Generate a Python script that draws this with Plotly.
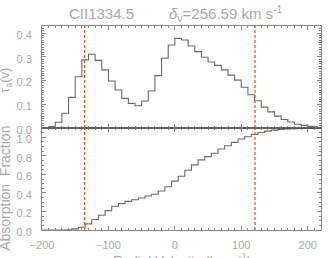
import plotly.graph_objects as go
from plotly.subplots import make_subplots

# ---- data ----
vel_tau = [-195, -185, -175, -165, -155, -145, -135, -125, -115, -105,
           -95, -85, -75, -65, -55, -45, -35, -25, -15, -5,
           5, 15, 25, 35, 45, 55, 65, 75, 85, 95,
           105, 115, 125, 135, 145, 155, 165, 175, 185, 195,
           205, 215]
tau = [0.0, 0.006, 0.024, 0.062, 0.129, 0.216, 0.287, 0.311, 0.285, 0.245,
       0.198, 0.160, 0.125, 0.104, 0.094, 0.114, 0.156, 0.221, 0.294, 0.350,
       0.378, 0.371, 0.346, 0.322, 0.298, 0.278, 0.264, 0.245, 0.223, 0.202,
       0.172, 0.140, 0.115, 0.088, 0.068, 0.050, 0.036, 0.025, 0.016, 0.011,
       0.007, 0.005]

vel_frac = [-200, -190, -180, -170, -160, -150, -140, -130, -120, -110,
            -100, -90, -80, -70, -60, -50, -40, -30, -20, -10,
            0, 10, 20, 30, 40, 50, 60, 70, 80, 90,
            100, 110, 120, 130, 140, 150, 160, 170, 180, 190,
            200, 210, 220]
frac = [0, 0, 0, 0, 0.002, 0.012, 0.030, 0.066, 0.113, 0.159,
        0.209, 0.256, 0.284, 0.309, 0.327, 0.345, 0.366, 0.385, 0.420, 0.466,
        0.527, 0.580, 0.645, 0.702, 0.756, 0.791, 0.827, 0.873, 0.909, 0.945,
        0.981, 1.006, 1.031, 1.052, 1.066, 1.077, 1.085, 1.090, 1.093, 1.095,
        1.096, 1.097, 1.097]

v_bounds = [-135.9, 120.7]
line_name = "CII1334.5"
delta_v = "256.59"

TXT = "#a8a8a8"
AX = "#8a8a8a"
CURVE = "#6a6a6a"
DASH = "#ff5a14"
FONT = "Liberation Sans"

fig = make_subplots(rows=2, cols=1, vertical_spacing=0.0, shared_xaxes=False)

fig.add_trace(go.Scatter(x=vel_tau, y=tau, mode="lines", line=dict(shape="hvh", color=CURVE, width=1.1),
                         showlegend=False, hoverinfo="skip"), row=1, col=1)
fig.add_trace(go.Scatter(x=vel_frac, y=frac, mode="lines", line=dict(shape="hvh", color=CURVE, width=1.1),
                         showlegend=False, hoverinfo="skip"), row=2, col=1)

for vb in v_bounds:
    for r in (1, 2):
        fig.add_vline(x=vb, line=dict(color=DASH, width=1.3, dash="3px,2px"), row=r, col=1)

xcommon = dict(range=[-200, 220], showgrid=False, zeroline=False, showline=True, linecolor=AX, linewidth=1,
               mirror="ticks", ticks="inside", ticklen=4, tickcolor=AX, dtick=100, tick0=0,
               automargin=False,
               minor=dict(ticks="inside", ticklen=2, dtick=10, tickcolor=AX),
               tickfont=dict(family=FONT, size=11, color=TXT))
fig.update_xaxes(**xcommon)
fig.update_xaxes(showticklabels=False, row=1, col=1)
fig.update_xaxes(ticklabelstandoff=5, row=2, col=1)

ycommon = dict(showgrid=False, zeroline=False, showline=True, linecolor=AX, linewidth=1,
               mirror="ticks", ticks="inside", ticklen=4, tickcolor=AX, automargin=False,
               tickfont=dict(family=FONT, size=11, color=TXT), ticklabelshift=2, ticklabelstandoff=7)
fig.update_yaxes(**ycommon)
fig.update_yaxes(range=[0, 0.43], dtick=0.1, tickformat=".1f",
                 minor=dict(ticks="inside", ticklen=2, dtick=0.01, tickcolor=AX), row=1, col=1)
fig.update_yaxes(range=[0, 1.1], dtick=0.2, tickformat=".1f",
                 minor=dict(ticks="inside", ticklen=2, dtick=0.05, tickcolor=AX), row=2, col=1)

fig.add_shape(type="line", xref="paper", yref="paper", x0=0, x1=1, y0=0.5, y1=0.5,
              line=dict(color="#3a3a3a", width=1))

ann = [
    dict(text=line_name, x=0.213, y=1.059, font=dict(size=15, color=TXT, family=FONT)),
    dict(text="<i>δ</i><sub>v</sub>=" + delta_v + " km s<sup>-1</sup>", x=0.659, y=1.059,
         font=dict(size=15, color=TXT, family=FONT)),
    dict(text="τ<sub>a</sub>(v)", x=-0.133, y=0.735, textangle=-90, font=dict(size=13, color=TXT, family=FONT)),
    dict(text="Absorption  Fraction", x=-0.133, y=0.206, textangle=-90, font=dict(size=14, color=TXT, family=FONT)),
    dict(text="Radial Velocity (km s<sup>-1</sup>)", x=0.502, y=-0.088, yanchor="top",
         font=dict(size=13.5, color=TXT, family=FONT)),
]
for a in ann:
    base = dict(xref="paper", yref="paper", showarrow=False, xanchor="center", yanchor="middle")
    base.update(a)
    fig.add_annotation(**base)

fig.update_layout(template="none", width=334, height=258, margin=dict(l=42, r=13, t=26, b=28, autoexpand=False),
                  paper_bgcolor="white", plot_bgcolor="white")

fig.write_html("out.html", config={"displayModeBar": False, "staticPlot": True},
               post_script="document.body.style.margin='0';document.body.style.padding='0';"
                           "document.documentElement.style.overflow='hidden';")
